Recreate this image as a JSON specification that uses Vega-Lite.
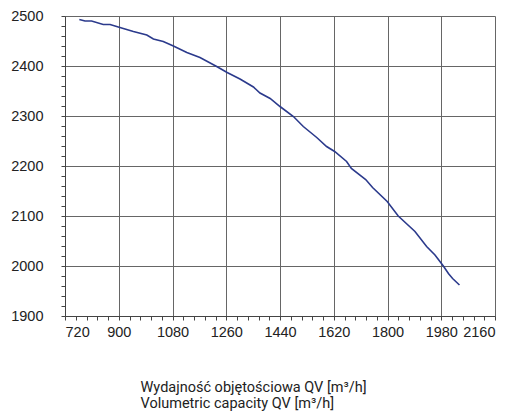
{
  "$schema": "https://vega.github.io/schema/vega-lite/v6.json",
  "width": 430,
  "height": 300,
  "autosize": "none",
  "padding": {"left": 65, "top": 16, "right": 17, "bottom": 100},
  "background": "white",
  "config": {
    "view": {"stroke": null},
    "font": "Roboto"
  },
  "data": {
    "values": [
      {"q": 768, "p": 2493},
      {"q": 787, "p": 2490},
      {"q": 809, "p": 2490},
      {"q": 848, "p": 2483},
      {"q": 871, "p": 2483},
      {"q": 904, "p": 2477},
      {"q": 949, "p": 2469},
      {"q": 994, "p": 2462},
      {"q": 1016, "p": 2454},
      {"q": 1049, "p": 2449},
      {"q": 1083, "p": 2440},
      {"q": 1128, "p": 2427},
      {"q": 1172, "p": 2417},
      {"q": 1228, "p": 2399},
      {"q": 1263, "p": 2387},
      {"q": 1306, "p": 2374},
      {"q": 1351, "p": 2358},
      {"q": 1373, "p": 2346},
      {"q": 1407, "p": 2335},
      {"q": 1440, "p": 2319},
      {"q": 1485, "p": 2299},
      {"q": 1518, "p": 2279},
      {"q": 1563, "p": 2257},
      {"q": 1596, "p": 2239},
      {"q": 1623, "p": 2229},
      {"q": 1663, "p": 2209},
      {"q": 1679, "p": 2195},
      {"q": 1727, "p": 2173},
      {"q": 1750, "p": 2157},
      {"q": 1799, "p": 2129},
      {"q": 1836, "p": 2100},
      {"q": 1892, "p": 2069},
      {"q": 1931, "p": 2039},
      {"q": 1959, "p": 2022},
      {"q": 1987, "p": 2000},
      {"q": 2004, "p": 1985},
      {"q": 2018, "p": 1975},
      {"q": 2041, "p": 1962}
    ]
  },
  "mark": {"type": "line", "color": "#2b3a8c", "strokeWidth": 1.6},
  "encoding": {
    "x": {
      "field": "q",
      "type": "quantitative",
      "scale": {"domain": [720, 2160], "nice": false, "zero": false},
      "axis": {
        "values": [720,756,792,828,864,900,936,972,1008,1044,1080,1116,1152,1188,1224,1260,1296,1332,1368,1404,1440,1476,1512,1548,1584,1620,1656,1692,1728,1764,1800,1836,1872,1908,1944,1980,2016,2052,2088,2124,2160],
        "labelExpr": "datum.value % 180 === 0 ? datum.label : ''",
        "labelOverlap": false,
        "format": "d",
        "grid": true,
        "gridColor": "#666",
        "gridOpacity": {"condition": {"test": "datum.value % 180 === 0", "value": 1}, "value": 0},
        "domainColor": "#444",
        "tickColor": "#444",
        "tickSize": 4,
        "labelPadding": 5,
        "labelFont": "Liberation Sans",
        "labelFontSize": 14.5,
        "labelColor": "#222",
        "title": ["Wydajność objętościowa QV [m³/h]", "Volumetric capacity QV [m³/h]"],
        "titleFontSize": 14.5,
        "titleFontWeight": "normal",
        "titleColor": "#222",
        "titleAlign": "left",
        "titleAnchor": "start",
        "titleX": 75,
        "titleY": 75,
        "titleBaseline": "alphabetic",
        "titleLineHeight": 16.5
      }
    },
    "y": {
      "field": "p",
      "type": "quantitative",
      "scale": {"domain": [1900, 2500], "nice": false, "zero": false},
      "axis": {
        "values": [1900,1920,1940,1960,1980,2000,2020,2040,2060,2080,2100,2120,2140,2160,2180,2200,2220,2240,2260,2280,2300,2320,2340,2360,2380,2400,2420,2440,2460,2480,2500],
        "labelExpr": "datum.value % 100 === 0 ? datum.label : ''",
        "labelOverlap": false,
        "format": "d",
        "grid": true,
        "gridColor": "#666",
        "gridOpacity": {"condition": {"test": "datum.value % 100 === 0", "value": 1}, "value": 0},
        "domainColor": "#444",
        "tickColor": "#444",
        "tickSize": 4,
        "labelPadding": 18,
        "labelFont": "Liberation Sans",
        "labelFontSize": 14.5,
        "labelColor": "#222",
        "title": null
      }
    }
  }
}
